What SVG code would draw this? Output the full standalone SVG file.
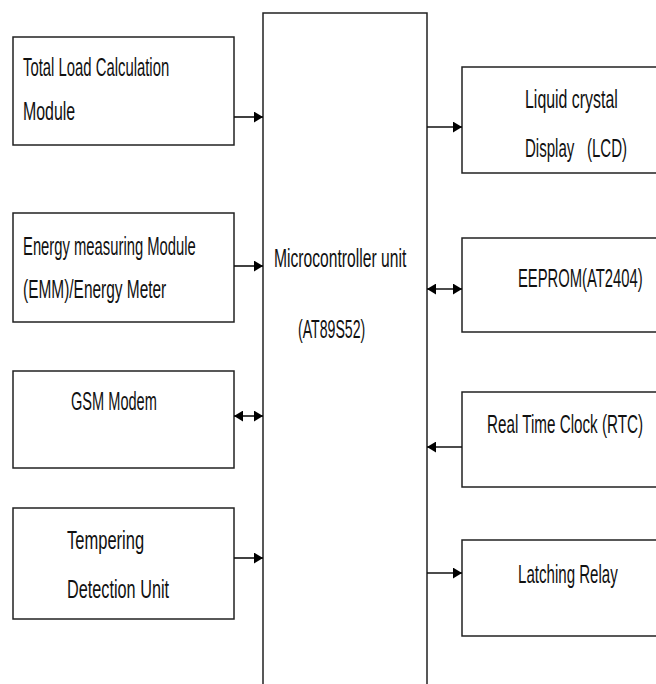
<svg xmlns="http://www.w3.org/2000/svg" width="656" height="684" viewBox="0 0 656 684">
<style>
.box{fill:none;stroke:#222;stroke-width:1.5}
.t{font-family:"Liberation Sans",Arial,sans-serif;font-size:26px;fill:#111}
.c{stroke:#111;stroke-width:1.6;fill:none}
</style>
<defs>
<marker id="ah" viewBox="0 0 10 12" refX="10" refY="6" markerWidth="9" markerHeight="11" markerUnits="userSpaceOnUse" orient="auto-start-reverse">
<path d="M0,0 L10,6 L0,12 Z" fill="#000"/>
</marker>
</defs>
<rect width="656" height="684" fill="#fff"/>
<g id="mcu">
<path class="box" d="M263,684 V13 H427 V684"/>
<text class="t" transform="translate(274,267) scale(0.58,1)" textLength="228" lengthAdjust="spacingAndGlyphs">Microcontroller unit</text>
<text class="t" transform="translate(298,338) scale(0.58,1)" textLength="116" lengthAdjust="spacingAndGlyphs">(AT89S52)</text>
</g>
<g id="tlc">
<rect class="box" x="13" y="37" width="221" height="108"/>
<text class="t" transform="translate(23,76) scale(0.58,1)" textLength="252" lengthAdjust="spacingAndGlyphs">Total Load Calculation</text>
<text class="t" transform="translate(23,120) scale(0.58,1)" textLength="90" lengthAdjust="spacingAndGlyphs">Module</text>
</g>
<g id="emm">
<rect class="box" x="13" y="213" width="221" height="109"/>
<text class="t" transform="translate(23,255) scale(0.58,1)" textLength="298" lengthAdjust="spacingAndGlyphs">Energy measuring Module</text>
<text class="t" transform="translate(23,298) scale(0.58,1)" textLength="247" lengthAdjust="spacingAndGlyphs">(EMM)/Energy Meter</text>
</g>
<g id="gsm">
<rect class="box" x="13" y="371" width="221" height="97"/>
<text class="t" transform="translate(71,410) scale(0.58,1)" textLength="148" lengthAdjust="spacingAndGlyphs">GSM Modem</text>
</g>
<g id="tdu">
<rect class="box" x="13" y="508" width="221" height="111"/>
<text class="t" transform="translate(67,549) scale(0.58,1)" textLength="133" lengthAdjust="spacingAndGlyphs">Tempering</text>
<text class="t" transform="translate(67,598) scale(0.58,1)" textLength="176" lengthAdjust="spacingAndGlyphs">Detection Unit</text>
</g>
<g id="lcd">
<path class="box" d="M656,67 H462 V173 H656"/>
<text class="t" transform="translate(525,108) scale(0.58,1)" textLength="160" lengthAdjust="spacingAndGlyphs">Liquid crystal</text>
<text class="t" transform="translate(525,157) scale(0.58,1)" textLength="176" lengthAdjust="spacingAndGlyphs" xml:space="preserve">Display   (LCD)</text>
</g>
<g id="eeprom">
<path class="box" d="M656,238 H462 V332 H656"/>
<text class="t" transform="translate(518,287) scale(0.58,1)" textLength="215" lengthAdjust="spacingAndGlyphs">EEPROM(AT2404)</text>
</g>
<g id="rtc">
<path class="box" d="M656,392 H462 V487 H656"/>
<text class="t" transform="translate(487,433) scale(0.58,1)" textLength="269" lengthAdjust="spacingAndGlyphs">Real Time Clock (RTC)</text>
</g>
<g id="relay">
<path class="box" d="M656,540 H462 V636 H656"/>
<text class="t" transform="translate(518,583) scale(0.58,1)" textLength="172" lengthAdjust="spacingAndGlyphs">Latching Relay</text>
</g>
<g id="connectors">
<line class="c" x1="234" y1="117" x2="263" y2="117" marker-end="url(#ah)"/>
<line class="c" x1="234" y1="266" x2="263" y2="266" marker-end="url(#ah)"/>
<line class="c" x1="234" y1="416" x2="263" y2="416" marker-start="url(#ah)" marker-end="url(#ah)"/>
<line class="c" x1="234" y1="558" x2="263" y2="558" marker-end="url(#ah)"/>
<line class="c" x1="427" y1="127" x2="462" y2="127" marker-end="url(#ah)"/>
<line class="c" x1="427" y1="289" x2="462" y2="289" marker-start="url(#ah)" marker-end="url(#ah)"/>
<line class="c" x1="462" y1="447" x2="427" y2="447" marker-end="url(#ah)"/>
<line class="c" x1="427" y1="573" x2="462" y2="573" marker-end="url(#ah)"/>
</g>
</svg>
